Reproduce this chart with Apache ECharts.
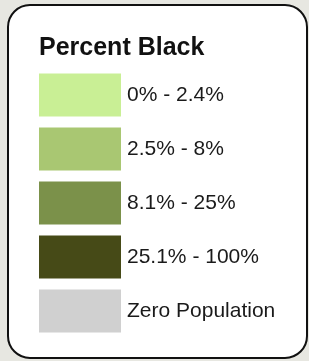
<!DOCTYPE html>
<html>
<head>
<meta charset="utf-8">
<script src="https://cdn.jsdelivr.net/npm/echarts@6/dist/echarts.min.js"></script>
<style>
  html, body { margin: 0; padding: 0; background: #e7e7e1; }
  #chart { width: 309px; height: 361px; }
</style>
</head>
<body>
<div id="chart"></div>
<script>
// legend classes, top to bottom
const classes = ['0% - 2.4%', '2.5% - 8%', '8.1% - 25%', '25.1% - 100%', 'Zero Population'];
const classColors = ['#c9ef95', '#a9c772', '#7b914a', '#464a17', '#d0d0d0'];
const swatchValues = [1, 1, 1, 1, 1];

const chart = echarts.init(document.getElementById('chart'));
chart.setOption({
    animation: false,
    backgroundColor: '#e7e7e1',
    title: {
        text: 'Percent Black',
        left: 39,
        top: 36,
        padding: 0,
        textStyle: {
            fontFamily: 'Liberation Sans, Arial, sans-serif',
            fontSize: 25,
            fontWeight: 'bold',
            color: '#111'
        }
    },
    graphic: [{
        type: 'rect',
        z: -1,
        shape: { x: 8, y: 5, width: 299, height: 353, r: 22 },
        style: { fill: '#fff', stroke: '#111', lineWidth: 2 }
    }],
    grid: { left: 39, top: 68, width: 82, height: 270 },
    xAxis: { type: 'value', min: 0, max: 1, show: false },
    yAxis: {
        type: 'category',
        inverse: true,
        data: classes,
        show: false
    },
    series: [{
        type: 'bar',
        barWidth: 43,
        data: swatchValues.map((v, i) => ({ value: v, itemStyle: { color: classColors[i] } })),
        label: {
            show: true,
            position: 'right',
            distance: 6,
            formatter: p => classes[p.dataIndex],
            fontFamily: 'Liberation Sans, Arial, sans-serif',
            fontSize: 21,
            color: '#1a1a1a'
        }
    }]
});
</script>
</body>
</html>
